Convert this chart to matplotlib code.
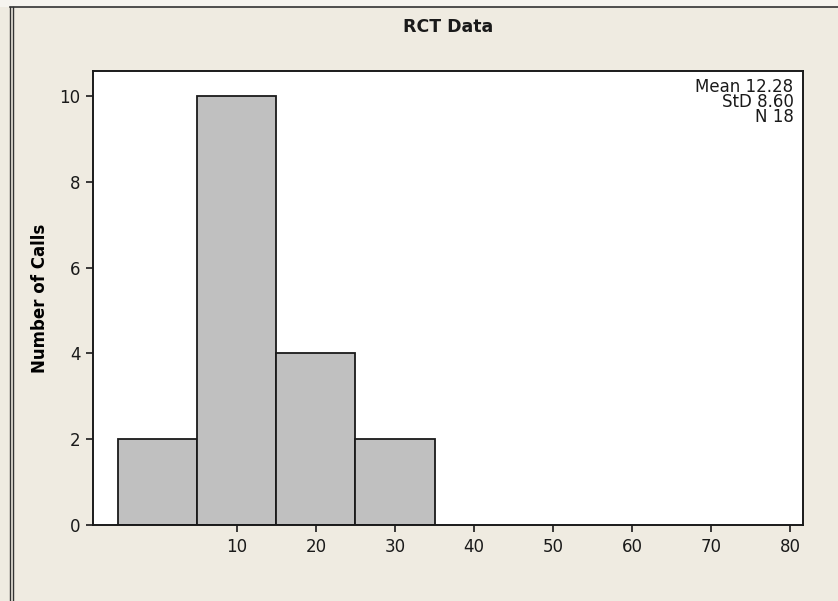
import matplotlib.pyplot as plt
from matplotlib.lines import Line2D
from matplotlib.patches import Rectangle

# histogram data
bin_centers = [0, 10, 20, 30]
counts = [2, 10, 4, 2]
bin_width = 10
x_ticks = [10, 20, 30, 40, 50, 60, 70, 80]
y_ticks = [0, 2, 4, 6, 8, 10]
stats = ["Mean 12.28", "StD 8.60", "N 18"]

plt.rcParams['font.family'] = ['DejaVu Sans']

fig = plt.figure(figsize=(8.38, 6.01), dpi=100)
fig.patch.set_facecolor('#EFEBE1')

# window-like frame: lighter strip on top, dark top line, double line on left
fig.patches.append(Rectangle((0, 1 - 7 / 601), 1, 7 / 601, transform=fig.transFigure,
                             facecolor='#F6F4EF', edgecolor='none', zorder=0))
fig.lines.append(Line2D([10 / 838, 1], [1 - 7 / 601, 1 - 7 / 601], transform=fig.transFigure,
                        color='#333333', lw=1.2))
for xp in (10, 13):
    fig.lines.append(Line2D([xp / 838, xp / 838], [0, 1 - 7 / 601], transform=fig.transFigure,
                            color='#333333', lw=1.0))

ax = fig.add_axes([93 / 838, 76 / 601, 710 / 838, 454 / 601])
ax.set_facecolor('white')

ax.bar(bin_centers, counts, width=bin_width, color='#C0C0C0', edgecolor='#1a1a1a',
       linewidth=1.3, zorder=2)

ax.set_xlim(-8.2, 81.6)
ax.set_ylim(0, 10.58)
ax.set_xticks(x_ticks)
ax.set_yticks(y_ticks)
ax.tick_params(direction='out', length=5, width=1.2, labelsize=12, color='#1a1a1a',
               labelcolor='#1a1a1a', pad=4)
for s in ax.spines.values():
    s.set_linewidth(1.4)
    s.set_color('#1a1a1a')

ax.set_ylabel('Number of Calls', fontsize=12, fontweight='bold')
ax.yaxis.set_label_coords(-0.062, 0.5)

fig.text(448 / 838, 1 - 27 / 601, 'RCT Data', ha='center', va='center',
         fontsize=12.5, fontweight='bold', color='#1a1a1a')

ax.text(0.9865, 0.985, "\n".join(stats), transform=ax.transAxes, ha='right', va='top',
        fontsize=12, linespacing=0.8, color='#1a1a1a', multialignment='right')

fig.savefig('out.png', dpi=100, facecolor=fig.get_facecolor())
